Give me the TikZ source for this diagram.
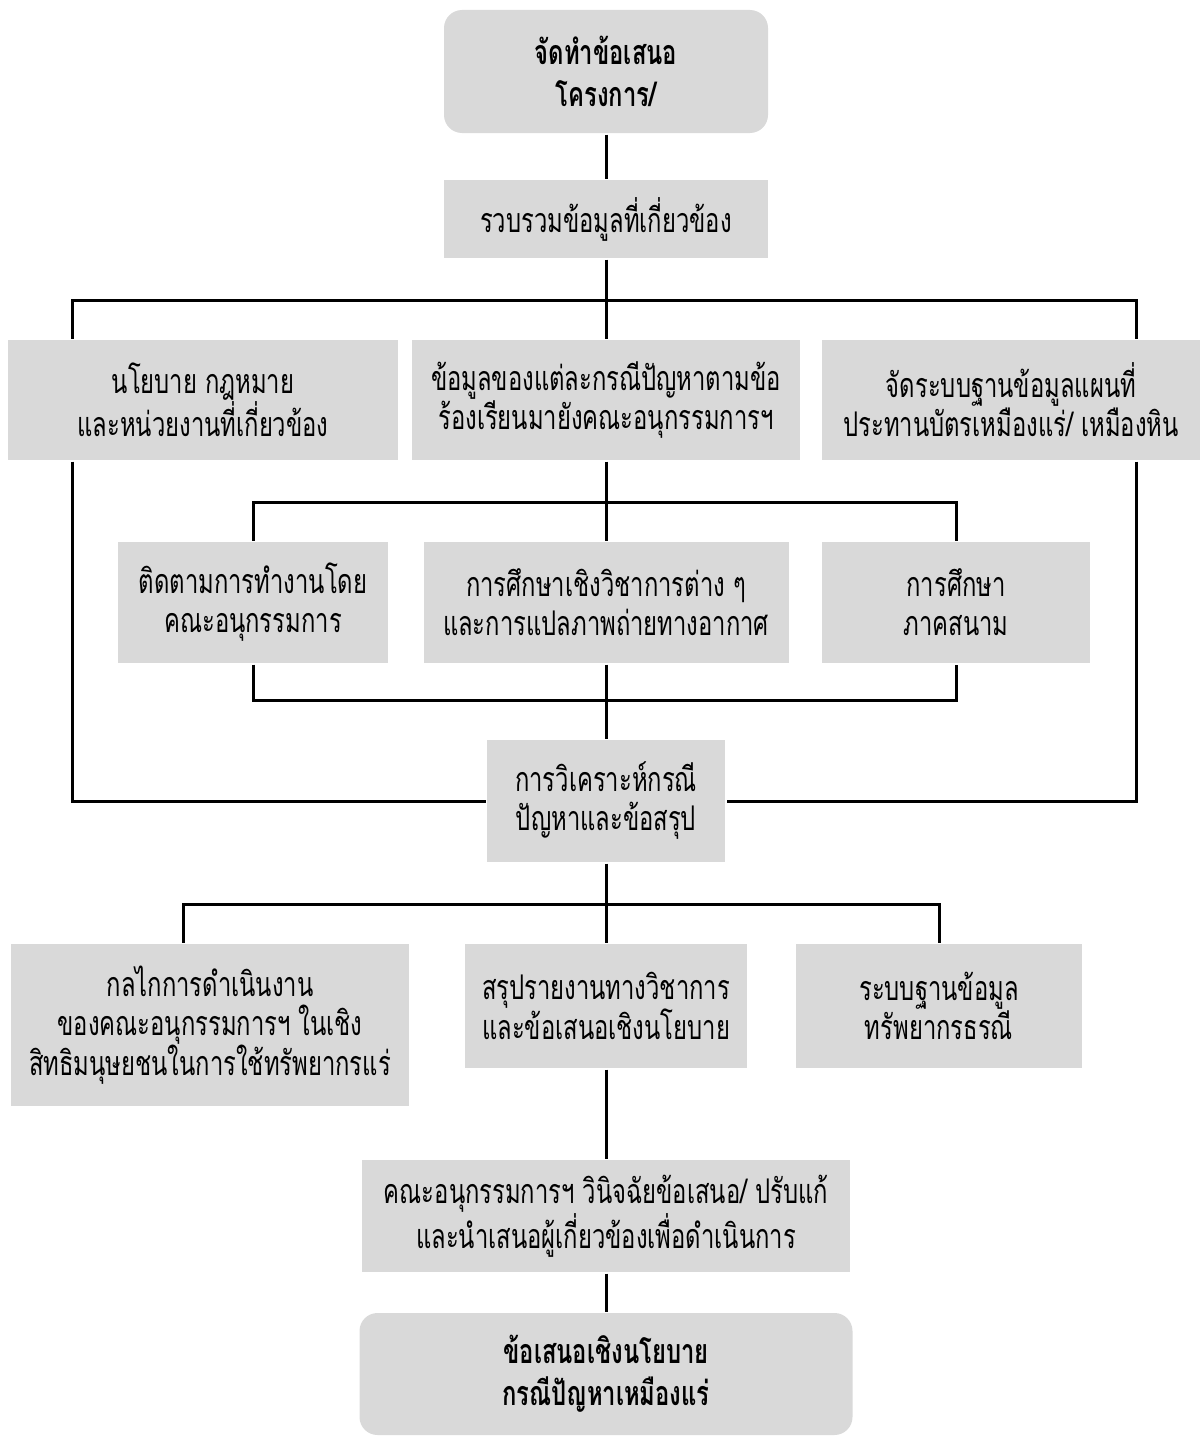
\documentclass[tikz,border=0pt]{standalone}
\usepackage{fontspec}
\newfontfamily\thaifont[Script=Thai,FakeStretch=0.7]{Loma}
\usetikzlibrary{positioning}

\begin{document}
\begin{tikzpicture}[x=1pt,y=1pt,on grid,line width=3pt,
    box/.style={fill=gray!30,align=center,inner sep=0pt,font=\thaifont\fontsize{34}{39}\selectfont},
    roundbox/.style={box,rounded corners=18pt,font=\thaifont\bfseries\fontsize{34}{42}\selectfont}]
\useasboundingbox (0,0) rectangle (1203,-1437);
          \node[roundbox,minimum width=324pt,minimum height=123pt] (top) at (606,-71.5) {จัดทำข้อเสนอ\\โครงการ/};
          \node[box,minimum width=324pt,minimum height=78pt]  (gather)   [below=147.5pt of top]      {รวบรวมข้อมูลที่เกี่ยวข้อง};
          \node[box,minimum width=388pt,minimum height=120pt] (fact)     [below=181pt of gather]     {ข้อมูลของแต่ละกรณีปัญหาตามข้อ\\ร้องเรียนมายังคณะอนุกรรมการฯ};
          \node[box,minimum width=390pt,minimum height=120pt] (policy)   [left=403pt of fact]        {นโยบาย กฎหมาย\\และหน่วยงานที่เกี่ยวข้อง};
          \node[box,minimum width=378pt,minimum height=120pt] (mapping)  [right=405pt of fact]       {จัดระบบฐานข้อมูลแผนที่\\ประทานบัตรเหมืองแร่/ เหมืองหิน};
          \node[box,minimum width=365pt,minimum height=121pt] (study)    [below=202.5pt of fact]     {การศึกษาเชิงวิชาการต่าง ๆ\\และการแปลภาพถ่ายทางอากาศ};
          \node[box,minimum width=270pt,minimum height=121pt] (follow)   [left=353pt of study]       {ติดตามการทำงานโดย\\คณะอนุกรรมการ};
          \node[box,minimum width=268pt,minimum height=121pt] (field)    [right=350pt of study]      {การศึกษา\\ภาคสนาม};
          \node[box,minimum width=238pt,minimum height=122pt] (analysis) [below=198.5pt of study]    {การวิเคราะห์กรณี\\ปัญหาและข้อสรุป};
          \node[box,minimum width=282pt,minimum height=124pt] (report)   [below=205pt of analysis]   {สรุปรายงานทางวิชาการ\\และข้อเสนอเชิงนโยบาย};
          \node[box,minimum width=398pt,minimum height=162pt] (mech)     [left=396pt of report,yshift=-19pt] {กลไกการดำเนินงาน\\ของคณะอนุกรรมการฯ ในเชิง\\สิทธิมนุษยชนในการใช้ทรัพยากรแร่};
          \node[box,minimum width=286pt,minimum height=124pt] (db)       [right=333pt of report]     {ระบบฐานข้อมูล\\ทรัพยากรธรณี};
          \node[box,minimum width=488pt,minimum height=112pt] (decide)   [below=210pt of report]     {คณะอนุกรรมการฯ วินิจฉัยข้อเสนอ/ ปรับแก้\\และนำเสนอผู้เกี่ยวข้องเพื่อดำเนินการ};
          \node[roundbox,minimum width=493pt,minimum height=122pt] (final) [below=158pt of decide]   {ข้อเสนอเชิงนโยบาย\\กรณีปัญหาเหมืองแร่};
          \coordinate (bus1) at (606,-300);
          \coordinate (bus2) at (606,-502);
          \coordinate (bus3) at (606,-700);
          \coordinate (bus4) at (606,-904);
          \coordinate[left=131pt of policy]  (lft);
          \coordinate[right=125pt of mapping] (rgt);
          \coordinate[left=27pt of mech]     (mlft);
          \draw (top) -- (gather);
          \draw (gather) -- (bus1) -- (fact);
          \draw (policy.north -| lft) -- (bus1 -| lft) -- (bus1 -| rgt) -- (mapping.north -| rgt);
          \draw (policy.south -| lft) |- (analysis.west);
          \draw (mapping.south -| rgt) |- (analysis.east);
          \draw (fact) -- (bus2);
          \draw (follow.north) -- (follow.north |- bus2) -- (field.north |- bus2) -- (field.north);
          \draw (bus2) -- (study);
          \draw (follow.south) -- (follow.south |- bus3) -- (field.south |- bus3) -- (field.south);
          \draw (study) -- (analysis);
          \draw (analysis) -- (bus4);
          \draw (mech.north -| mlft) -- (bus4 -| mlft) -- (bus4 -| db) -- (db.north);
          \draw (bus4) -- (report);
          \draw (report) -- (decide);
          \draw (decide) -- (final);
\end{tikzpicture}
\end{document}
